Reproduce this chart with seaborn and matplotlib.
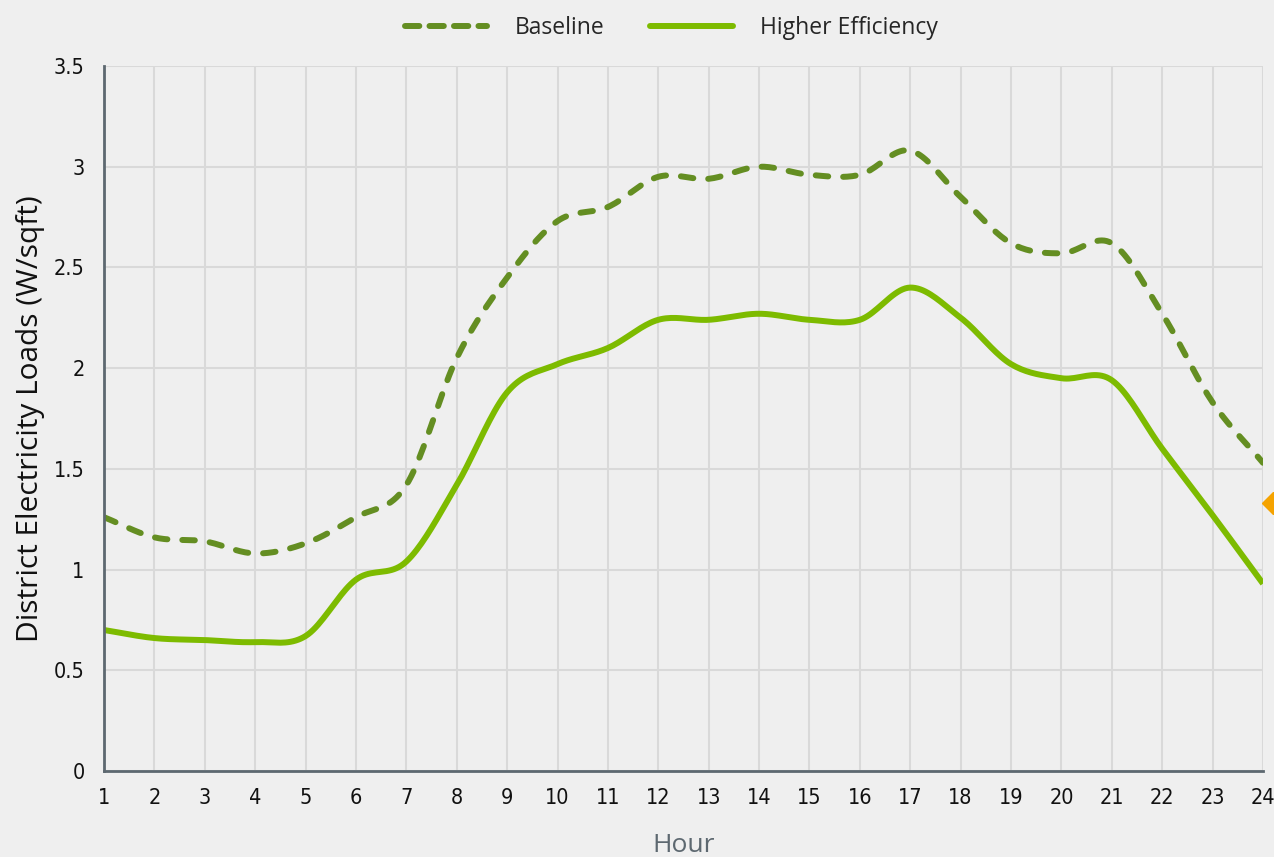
import numpy as np
import pandas as pd
import matplotlib
matplotlib.use("Agg")
import matplotlib.pyplot as plt
from matplotlib import font_manager
from matplotlib.lines import Line2D
import seaborn as sns

# Hourly district electricity loads (W/sqft)
hours = list(range(1, 25))
baseline = [1.26, 1.16, 1.14, 1.08, 1.13, 1.26, 1.42, 2.05, 2.45, 2.73, 2.80, 2.95,
            2.94, 3.00, 2.96, 2.96, 3.08, 2.85, 2.62, 2.57, 2.62, 2.27, 1.83, 1.53]
higher_eff = [0.70, 0.66, 0.65, 0.64, 0.67, 0.95, 1.04, 1.42, 1.88, 2.02, 2.10, 2.24,
              2.24, 2.27, 2.24, 2.24, 2.40, 2.25, 2.02, 1.95, 1.94, 1.60, 1.27, 0.93]
series_names = ["Baseline", "Higher Efficiency"]
y_ticks = [0, 0.5, 1, 1.5, 2, 2.5, 3, 3.5]
y_tick_labels = ["0", "0.5", "1", "1.5", "2", "2.5", "3", "3.5"]
edge_marker_value = 1.33


def smooth(x, y, n=20):
    """Catmull-Rom spline through the hourly points for a smooth curve."""
    x = np.asarray(x, float)
    y = np.asarray(y, float)
    px = np.concatenate([[2 * x[0] - x[1]], x, [2 * x[-1] - x[-2]]])
    py = np.concatenate([[2 * y[0] - y[1]], y, [2 * y[-1] - y[-2]]])
    xs, ys = [], []
    t = np.linspace(0, 1, n, endpoint=False)
    for i in range(1, len(px) - 2):
        p0, p1, p2, p3 = py[i - 1], py[i], py[i + 1], py[i + 2]
        ys.append(0.5 * ((2 * p1) + (-p0 + p2) * t + (2 * p0 - 5 * p1 + 4 * p2 - p3) * t ** 2
                         + (-p0 + 3 * p1 - 3 * p2 + p3) * t ** 3))
        xs.append(px[i] + (px[i + 1] - px[i]) * t)
    xs.append([x[-1]])
    ys.append([y[-1]])
    return np.concatenate(xs), np.concatenate(ys)


frames = []
for name, vals in zip(series_names, [baseline, higher_eff]):
    sx, sy = smooth(hours, vals)
    frames.append(pd.DataFrame({"Hour": sx, "Load": sy, "Scenario": name}))
df = pd.concat(frames, ignore_index=True)

sns.set_theme(style="white")
plt.rcParams["font.family"] = ["DejaVu Sans"]

# condensed face for the tick numbers
tick_font = font_manager.FontProperties(family="DejaVu Sans", stretch="condensed", size=15.5)

bg = "#efefef"
fig = plt.figure(figsize=(12.74, 8.57), dpi=100, facecolor=bg)
ax = fig.add_axes([104 / 1274, 1 - 771 / 857, (1263 - 104) / 1274, (771 - 66) / 857])
ax.set_facecolor(bg)

lw = 4.3
dash = (2.1, 2.5)
palette = {"Baseline": "#648e22", "Higher Efficiency": "#7dbb00"}
sns.lineplot(data=df, x="Hour", y="Load", hue="Scenario", style="Scenario",
             palette=palette, dashes={"Baseline": dash, "Higher Efficiency": ""},
             linewidth=lw, ax=ax, legend=False, sort=False)
for line in ax.lines:
    line.set_dash_capstyle("round")
    line.set_solid_capstyle("butt")

# partial marker at the right edge
ax.plot([24.2], [edge_marker_value], marker="D", color="#f5a300", markersize=11,
        clip_on=False, zorder=5)

ax.set_xlim(1, 24)
ax.set_ylim(0, 3.5)
ax.set_xticks(hours)
ax.set_xticklabels([str(h) for h in hours], fontproperties=tick_font)
ax.set_yticks(y_ticks)
ax.set_yticklabels(y_tick_labels, fontproperties=tick_font)
ax.grid(True, color="#d9d9d9", linewidth=1.5)
ax.set_axisbelow(True)
for side in ["top", "right"]:
    ax.spines[side].set_visible(False)
for side in ["left", "bottom"]:
    ax.spines[side].set_color("#5d6870")
    ax.spines[side].set_linewidth(2)
ax.tick_params(axis="both", length=0, colors="#111111")
ax.tick_params(axis="x", pad=12)
ax.tick_params(axis="y", pad=14)

ax.set_xlabel("Hour", fontsize=19, color="#5d6870", family=["Open Sans", "DejaVu Sans"], labelpad=18)
ax.set_ylabel("District Electricity Loads (W/sqft)", fontsize=21.5, color="#111111",
              family=["Open Sans", "DejaVu Sans"], labelpad=6)

handles = [Line2D([], [], color=palette["Baseline"], linewidth=lw, dashes=(2.4, 1.7),
                  dash_capstyle="round"),
           Line2D([], [], color=palette["Higher Efficiency"], linewidth=lw,
                  solid_capstyle="round")]
fig.legend(handles, series_names, loc="upper center", bbox_to_anchor=(0.527, 1.005), ncol=2,
           frameon=False, handlelength=3.6, columnspacing=2.0, handletextpad=1.2,
           prop={"family": ["Open Sans", "DejaVu Sans"], "size": 16.5})

fig.savefig("out.png", dpi=100, facecolor=bg)
